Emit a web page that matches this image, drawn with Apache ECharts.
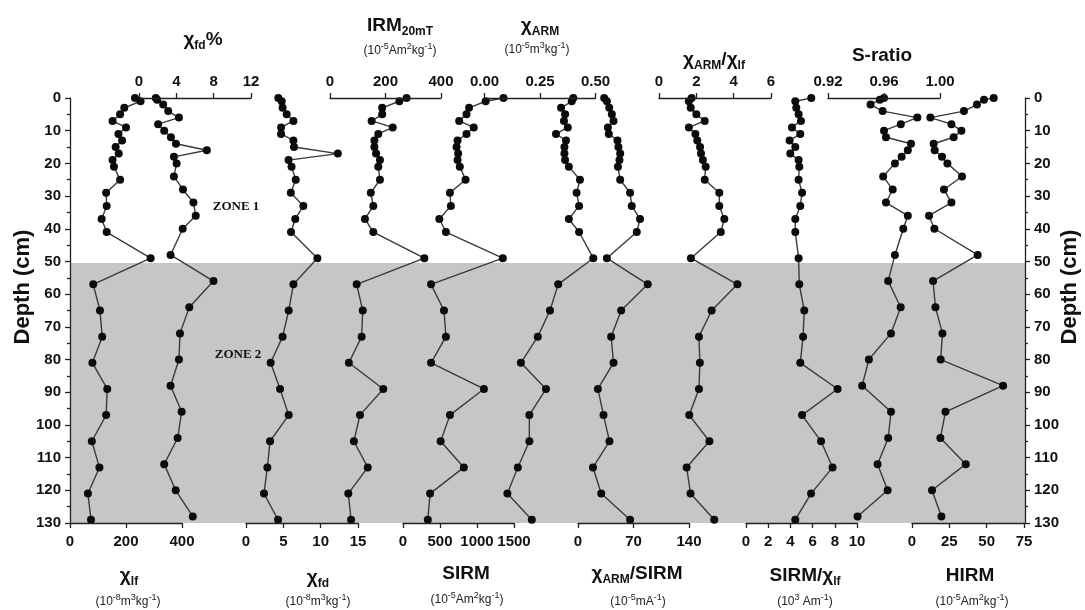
<!DOCTYPE html>
<html><head><meta charset="utf-8">
<script src="https://cdn.jsdelivr.net/npm/echarts@6/dist/echarts.min.js"></script>
<style>html,body{margin:0;padding:0;background:#fff}#c{width:1085px;height:610px}</style>
</head><body><div id="c"></div>
<script>
// ---- depth scales (cm) ----
const depthA = [0,1,3,5,7,9,11,13,15,17,19,21,25,29,33,37,41,49,57,65,73,81,89,97,105,113,121,129];
const depthB = [0,0.5,2,4,6,8,10,12,14,16,18,20,24,28,32,36,40,48,56,64,72,80,88,96,104,112,120,128];
const depthTicks = [0,10,20,30,40,50,60,70,80,90,100,110,120,130];
const zoneBoundary = 50.5;
const depthMax = 130;

// ---- series values ----
const chiLf = [232,252,194,179,152,200,173,186,163,174,152,157,179,129,131,113,131,288,83,107,115,80,133,129,78,105,64,75];
const chiFdPct = [1.8,1.94,2.59,3.13,4.28,2.05,2.7,3.42,3.96,7.27,3.74,4.03,3.74,4.71,5.83,6.08,4.68,3.38,7.98,5.39,4.39,4.28,3.38,4.57,4.14,2.7,3.93,5.76];
const chiFd = [4.33,4.78,4.9,5.45,6.35,4.7,4.7,6.35,6.43,12.3,5.7,6.1,6.66,6.0,7.68,6.6,6.03,9.56,6.35,5.72,4.9,3.3,4.56,5.72,3.22,2.86,2.41,4.29];
const irm20 = [276,250,188,188,150,226,174,160,160,166,180,174,180,147,156,126,156,340,96,118,114,68,192,108,86,136,66,76];
const sirm = [1358,1117,893,858,759,956,858,737,724,745,737,768,845,634,647,491,580,1349,379,554,580,379,1094,634,509,822,366,335];
const chiArm = [0.40,0.393,0.345,0.363,0.358,0.375,0.322,0.367,0.36,0.36,0.363,0.38,0.43,0.415,0.426,0.38,0.426,0.49,0.332,0.295,0.24,0.164,0.277,0.202,0.202,0.15,0.103,0.213];
const armSirm = [33,36.4,39.4,42.7,44.8,37.7,38.9,49.8,51,53.2,52.3,50.3,53.2,65.7,67.8,78.2,74.1,36.4,88,54.4,41.8,44.8,25.1,32.2,39.7,18.9,29.3,65.7];
const armLf = [1.75,1.6,1.7,2.0,2.45,1.6,1.95,2.05,2.2,2.25,2.35,2.5,2.45,3.23,3.23,3.5,3.31,1.71,4.2,2.82,2.14,2.19,2.14,1.62,2.7,1.48,1.69,2.96];
const sirmLf = [5.88,4.44,4.53,4.74,4.95,4.14,4.89,3.93,4.44,3.99,4.74,4.8,4.74,5.05,4.89,4.44,4.44,4.74,4.8,5.25,5.14,4.89,8.25,5.05,6.76,7.8,5.86,4.44];
const sRatio = [0.96,0.957,0.9504,0.959,0.9838,0.972,0.960,0.9614,0.9793,0.977,0.9726,0.9678,0.9594,0.9662,0.9614,0.977,0.9738,0.9678,0.963,0.9719,0.965,0.9492,0.9444,0.965,0.963,0.9554,0.9626,0.9411];
const hirm = [54.7,48.2,43.5,34.8,12.3,26.4,33.1,27.9,14.5,15.2,20.1,23.7,33.5,21.4,26.4,11.4,15,44,14.1,15.7,20.4,19.2,61,22.4,19,36,13.4,19.7];

// ---- axis ranges (tick labels) ----
const axChiLf = [0,400,200], axChiFd = [0,15,5], axSirm = [0,1500,500], axArmSirm = [0,140,70];
const axSirmLf = [0,10,2], axHirm = [0,75,25], axChiFdPct = [0,12,4], axIrm = [0,400,200];
const axChiArm = [0,0.5,0.25], axArmLf = [0,6,2], axSRatio = [0.92,1.00,0.04];

const FONT = '"Liberation Sans", Arial, Helvetica, sans-serif';
const TOP = 98, H = 425;
const panels = [
  {v: chiLf,    d: depthA, pos:'bottom', left:70,    w:112, ax:axChiLf},
  {v: chiFd,    d: depthA, pos:'bottom', left:246,   w:112, ax:axChiFd},
  {v: sirm,     d: depthA, pos:'bottom', left:403,   w:111, ax:axSirm},
  {v: armSirm,  d: depthA, pos:'bottom', left:578,   w:111, ax:axArmSirm},
  {v: sirmLf,   d: depthA, pos:'bottom', left:746,   w:111, ax:axSirmLf},
  {v: hirm,     d: depthB, pos:'bottom', left:912,   w:112, ax:axHirm},
  {v: chiFdPct, d: depthB, pos:'top',    left:139,   w:112, ax:axChiFdPct},
  {v: irm20,    d: depthA, pos:'top',    left:330,   w:111, ax:axIrm},
  {v: chiArm,   d: depthA, pos:'top',    left:484.5, w:111, ax:axChiArm, fmt:2},
  {v: armLf,    d: depthA, pos:'top',    left:659,   w:112, ax:axArmLf},
  {v: sRatio,   d: depthB, pos:'top',    left:828,   w:112, ax:axSRatio, fmt:2}
];

const lblStyle = {fontFamily: FONT, fontWeight:'bold', fontSize:15, color:'#111'};
const lineStyleAx = {color:'#222', width:1.3};

const grids = [{left:70, width:955, top:TOP, height:H, outerBoundsMode:'none'}];
const xAxes = [{gridIndex:0, type:'value', min:0, max:1, show:false}];
const yAxes = [
  {gridIndex:0, type:'value', inverse:true, min:0, max:depthMax, interval:10, position:'left', z:5,
   axisLine:{show:true, lineStyle:lineStyleAx}, axisTick:{show:true, length:5, lineStyle:lineStyleAx},
   minorTick:{show:true, splitNumber:2, length:3, lineStyle:lineStyleAx}, splitLine:{show:false},
   axisLabel:Object.assign({margin:9}, lblStyle)},
  {gridIndex:0, type:'value', inverse:true, min:0, max:depthMax, interval:10, position:'right', z:5,
   axisLine:{show:true, lineStyle:lineStyleAx}, axisTick:{show:true, length:5, lineStyle:lineStyleAx},
   minorTick:{show:true, splitNumber:2, length:3, lineStyle:lineStyleAx}, splitLine:{show:false},
   axisLabel:Object.assign({margin:9}, lblStyle)}
];
const series = [{
  type:'line', xAxisIndex:0, yAxisIndex:0, data:[[0.5, 0]], showSymbol:false, lineStyle:{width:0}, z:1, silent:true,
  markArea:{silent:true, itemStyle:{color:'#c6c6c6'}, data:[[{yAxis:zoneBoundary},{yAxis:depthMax}]]}
}];
panels.forEach((p, i) => {
  const gi = i + 1;
  grids.push({left:p.left, width:p.w, top:TOP, height:H, outerBoundsMode:'none'});
  xAxes.push({gridIndex:gi, type:'value', position:p.pos, min:p.ax[0], max:p.ax[1], interval:p.ax[2], z:5,
    axisLine:{show:true, onZero:false, lineStyle:lineStyleAx},
    axisTick:{show:true, length:5, lineStyle:lineStyleAx}, splitLine:{show:false},
    axisLabel:Object.assign({margin: p.pos==='top'?9:11,
      formatter: p.fmt ? (v => v.toFixed(p.fmt)) : (v => String(v))}, lblStyle)});
  yAxes.push({gridIndex:gi, type:'value', inverse:true, min:0, max:depthMax, show:false});
  series.push({type:'line', xAxisIndex:gi, yAxisIndex:gi+1, z:4,
    data: p.v.map((v, k) => [v, p.d[k]]),
    symbol:'circle', symbolSize:8, showSymbol:true,
    itemStyle:{color:'#0b0b0b'}, lineStyle:{color:'#3a3a3a', width:1.4}});
});

// ---- titles ----
const richTitle = {
  b:{fontSize:19, fontWeight:'bold', fontFamily:FONT, fill:'#111', lineHeight:24},
  s:{fontSize:12, fontWeight:'bold', fontFamily:FONT, fill:'#111', lineHeight:12, verticalAlign:'bottom'}
};
const richUnit = {
  n:{fontSize:12, fontFamily:FONT, fill:'#222', lineHeight:18},
  p:{fontSize:9, fontFamily:FONT, fill:'#222', lineHeight:9, verticalAlign:'top'}
};
function title(text, x, y) {
  return {type:'text', x, y, z:10, style:{text, rich:richTitle, align:'center', verticalAlign:'middle'}};
}
function unit(text, x, y) {
  return {type:'text', x, y, z:10, style:{text, rich:richUnit, align:'center', verticalAlign:'middle'}};
}
const graphics = [
  title('{b|χ}{s|fd}{b|%}', 203, 40),
  title('{b|IRM}{s|20mT}', 400, 26),
  unit('{n|(10}{p|-5}{n|Am}{p|2}{n|kg}{p|-1}{n|)}', 400, 51),
  title('{b|χ}{s|ARM}', 540, 26),
  unit('{n|(10}{p|-5}{n|m}{p|3}{n|kg}{p|-1}{n|)}', 537, 50),
  title('{b|χ}{s|ARM}{b|/χ}{s|lf}', 714, 60),
  title('{b|S-ratio}', 882, 56),
  title('{b|χ}{s|lf}', 129, 576),
  unit('{n|(10}{p|-8}{n|m}{p|3}{n|kg}{p|-1}{n|)}', 128, 602),
  title('{b|χ}{s|fd}', 318, 578),
  unit('{n|(10}{p|-8}{n|m}{p|3}{n|kg}{p|-1}{n|)}', 318, 602),
  title('{b|SIRM}', 466, 574),
  unit('{n|(10}{p|-5}{n|Am}{p|2}{n|kg}{p|-1}{n|)}', 467, 600),
  title('{b|χ}{s|ARM}{b|/SIRM}', 637, 574),
  unit('{n|(10}{p|-5}{n|mA}{p|-1}{n|)}', 638, 602),
  title('{b|SIRM/χ}{s|lf}', 805, 576),
  unit('{n|(10}{p|3}{n| Am}{p|-1}{n|)}', 805, 602),
  title('{b|HIRM}', 970, 576),
  unit('{n|(10}{p|-5}{n|Am}{p|2}{n|kg}{p|-1}{n|)}', 972, 602),
  {type:'text', x:236, y:207, z:10, style:{text:'ZONE 1', font:'bold 13px "Liberation Serif", "Times New Roman", serif', fill:'#111', align:'center', verticalAlign:'middle'}},
  {type:'text', x:238, y:355, z:10, style:{text:'ZONE 2', font:'bold 13px "Liberation Serif", "Times New Roman", serif', fill:'#111', align:'center', verticalAlign:'middle'}},
  {type:'text', x:23, y:287, rotation:Math.PI/2, z:10, style:{text:'Depth (cm)', font:'bold 22px ' + FONT, fill:'#111', align:'center', verticalAlign:'middle'}},
  {type:'text', x:1070, y:287, rotation:Math.PI/2, z:10, style:{text:'Depth (cm)', font:'bold 22px ' + FONT, fill:'#111', align:'center', verticalAlign:'middle'}}
];

const chart = echarts.init(document.getElementById('c'), null, {renderer:'canvas'});
chart.setOption({
  animation:false, backgroundColor:'#fff',
  grid:grids, xAxis:xAxes, yAxis:yAxes, series, graphic:graphics
});
</script></body></html>
